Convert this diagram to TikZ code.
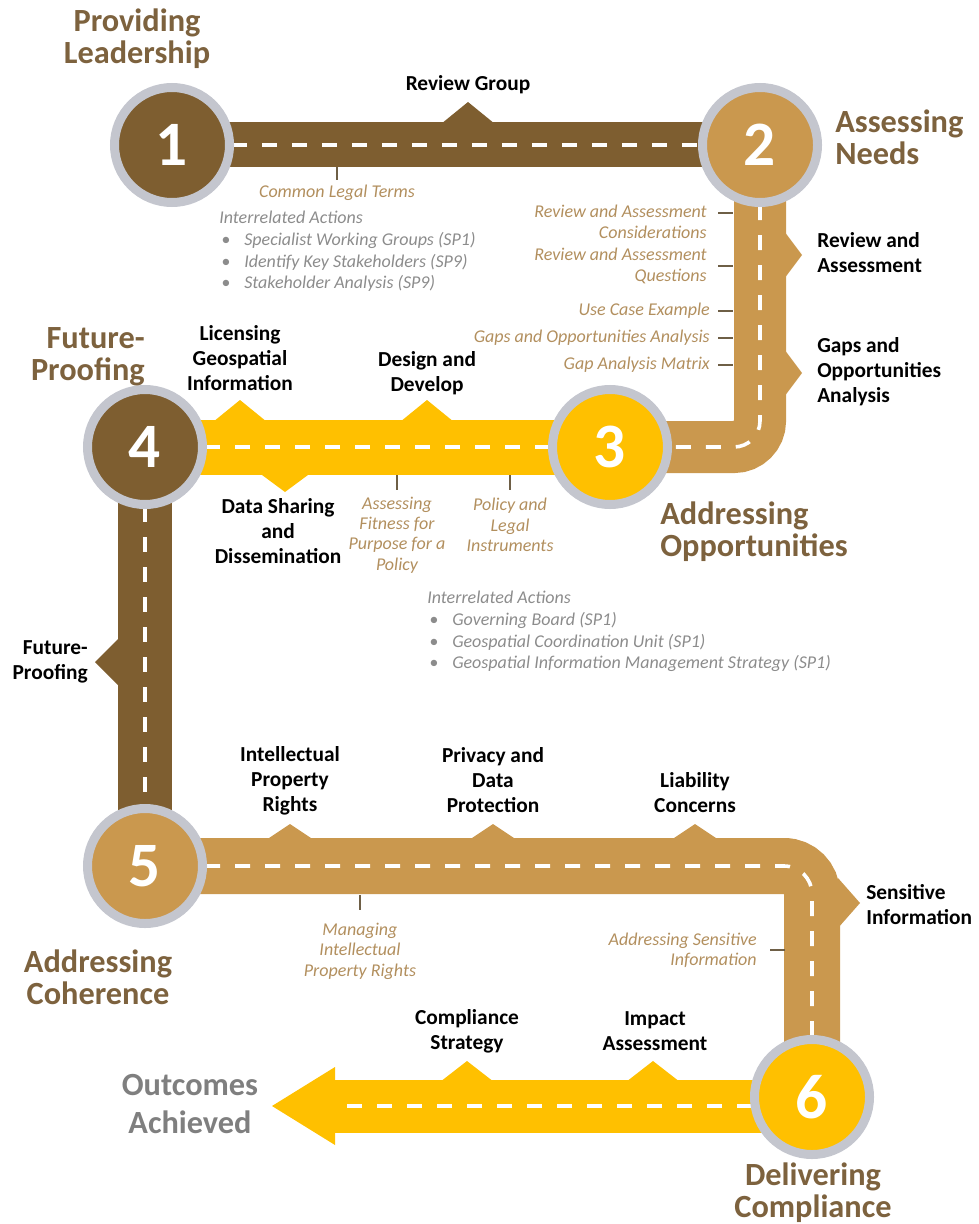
\documentclass[tikz,border=0pt]{standalone}
\usepackage{fontspec}
\setmainfont{Carlito}
\usetikzlibrary{backgrounds}
\definecolor{darkroad}{RGB}{126,94,48}
\definecolor{tanroad}{RGB}{202,152,78}
\definecolor{goldroad}{RGB}{255,192,0}
\definecolor{ringgrey}{RGB}{196,198,206}
\definecolor{headbrown}{RGB}{125,98,62}
\definecolor{notetan}{RGB}{178,143,94}
\definecolor{listgrey}{RGB}{140,140,140}
\definecolor{outgrey}{RGB}{127,127,127}
\definecolor{tickbrown}{RGB}{110,95,70}
\newcommand{\itm}{\makebox[6.25mm][l]{\hspace{0.5mm}\textbullet}}
\tikzset{
	stage/.style={circle, draw=ringgrey, line width=2.25mm, minimum size=28.75mm, inner sep=0pt, text=white, font=\fontsize{45}{45}\selectfont\bfseries},
	road/.style={line width=13.5mm},
	lane/.style={white, line width=0.9mm, dash pattern=on 3.75mm off 3.75mm},
	heading/.style={inner sep=0pt, text=headbrown, font=\fontsize{23}{23}\selectfont\bfseries},
	sign/.style={inner sep=0pt, align=center, font=\fontsize{15.2}{17.8}\selectfont\bfseries},
	note/.style={inner sep=0pt, align=center, text=notetan, font=\fontsize{12.8}{14.5}\selectfont\itshape},
	actions/.style={inner sep=0pt, align=left, text=listgrey, font=\fontsize{12.8}{15.4}\selectfont\itshape},
	marker/.style={tickbrown, line width=0.5mm}
}
\begin{document}
\begin{tikzpicture}[x=0.25mm, y=-0.25mm]
	\useasboundingbox (0,0) rectangle (978,1224);
	
	% stages
	\node[stage, fill=darkroad] (c1) at (172,145) {1};
	\node[stage, fill=tanroad] (c2) at (760,145) {2};
	\node[stage, fill=goldroad] (c3) at (610,447) {3};
	\node[stage, fill=darkroad] (c4) at (145,447) {4};
	\node[stage, fill=tanroad] (c5) at (145,866) {5};
	\node[stage, fill=goldroad] (c6) at (812,1097) {6};
	\coordinate (tip) at (272,1106);
	\coordinate (neck) at (335,1106);
	
	\begin{scope}[on background layer]
		% roads
		\draw[road, darkroad, line width=11.25mm] (c1.center) -- (c2.center);
		\draw[road, tanroad, line width=13mm, rounded corners=6.5mm] (c2.center) -- (c2.center |- c3.center) -- (c3.center);
		\draw[road, goldroad, line width=13.75mm] (c4.center) -- (c3.center);
		\draw[road, darkroad] (c4.center) -- (c5.center);
		\draw[road, tanroad, line width=14mm, rounded corners=7mm] (c5.center) -- (c6.center |- c5.center) -- (c6.center);
		\draw[road, goldroad, line width=13.25mm] (c6.center |- tip) -- (neck);
		\fill[goldroad] (tip) -- ++(63,-39) -- ++(0,78) -- cycle;
		
		% bumps
		\fill[darkroad] (441,124) -- (468,102) -- (495,124) -- cycle;
		\foreach \y in {255,373}
			\fill[tanroad] (784,\y-24) -- (802,\y) -- (784,\y+24) -- cycle;
		\foreach \x in {240,427}
			\fill[goldroad] (\x-27,422) -- (\x,400) -- (\x+27,422) -- cycle;
		\fill[goldroad] (258,472) -- (285,492) -- (312,472) -- cycle;
		\fill[darkroad] (120,637) -- (95,662) -- (120,687) -- cycle;
		\foreach \x in {290,493,695}
			\fill[tanroad] (\x-24,840) -- (\x,824) -- (\x+24,840) -- cycle;
		\fill[tanroad] (838,878) -- (860,903) -- (838,928) -- cycle;
		\foreach \x in {467,653}
			\fill[goldroad] (\x-27,1082) -- (\x,1061) -- (\x+27,1082) -- cycle;
		
		% lanes
		\draw[lane] (c1.center) -- (c2.center);
		\draw[lane, rounded corners=6.5mm] (c2.center) -- (c2.center |- c3.center) -- (c3.center);
		\draw[lane] (c4.center) -- (c3.center);
		\draw[lane] (c4.center) -- (c5.center);
		\draw[lane, rounded corners=7mm] (c5.center) -- (c6.center |- c5.center) -- (c6.center);
		\draw[lane] (c6.center |- tip) -- (neck);
	\end{scope}
	
	% stage headings
	\node[heading, align=center] (lead) at (137,39) {Providing\\Leadership};
	\node[heading, align=left, anchor=west] (needs) at (835,137) {Assessing\\Needs};
	\node[heading, align=right, anchor=east] (proof) at (145,357) {Future-\\Proofing};
	\node[heading, align=left, anchor=west] (opps) at (660,532) {Addressing\\Opportunities};
	\node[heading, align=center] (coh) at (98,977) {Addressing\\Coherence};
	\node[heading, align=center] (deliv) at (813,1193) {Delivering\\Compliance};
	\node[heading, align=center, text=outgrey, font=\fontsize{23}{27}\selectfont\bfseries] (done) at (190,1104) {Outcomes\\Achieved};
	
	% signs along the roads
	\node[sign] (review) at (468,85) {Review Group};
	\node[sign, align=left, anchor=west] (ra) at (817,253) {Review and\\Assessment};
	\node[sign, align=left, anchor=west] (gaps) at (817,372) {Gaps and\\Opportunities\\Analysis};
	\node[sign] (lic) at (240,358) {Licensing\\Geospatial\\Information};
	\node[sign] (design) at (427,373) {Design and\\Develop};
	\node[sign] (share) at (278,531) {Data Sharing\\and\\Dissemination};
	\node[sign, align=right, anchor=east] (fp) at (88,662) {Future-\\Proofing};
	\node[sign] (ipr) at (290,781) {Intellectual\\Property\\Rights};
	\node[sign] (privacy) at (493,780) {Privacy and\\Data\\Protection};
	\node[sign] (liab) at (695,793) {Liability\\Concerns};
	\node[sign, align=left, anchor=west] (sens) at (866,905) {Sensitive\\Information};
	\node[sign] (comp) at (467,1031) {Compliance\\Strategy};
	\node[sign] (impact) at (655,1031) {Impact\\Assessment};
	
	% notes
	\node[note] (legal) at (337,193) {Common Legal Terms};
	\node[note, align=right, anchor=east] (racons) at (707,222) {Review and Assessment\\Considerations};
	\node[note, align=right, anchor=east] (raques) at (707,266) {Review and Assessment\\Questions};
	\node[note, anchor=east] (usecase) at (710,311) {Use Case Example};
	\node[note, anchor=east] (goa) at (710,338) {Gaps and Opportunities Analysis};
	\node[note, anchor=east] (matrix) at (710,365) {Gap Analysis Matrix};
	\node[note] (fitness) at (397,535) {Assessing\\Fitness for\\Purpose for a\\Policy};
	\node[note] (policy) at (510,525) {Policy and\\Legal\\Instruments};
	\node[note] (mipr) at (360,951) {Managing\\Intellectual\\Property Rights};
	\node[note, align=right, anchor=east] (asi) at (757,950) {Addressing Sensitive\\Information};
	
	% ticks
	\draw[marker] (337,167) -- (337,180);
	\foreach \y in {213,266,311,338,365}
		\draw[marker] (718,\y) -- (733,\y);
	\draw[marker] (397,475) -- (397,490);
	\draw[marker] (510,475) -- (510,490);
	\draw[marker] (360,895) -- (360,910);
	\draw[marker] (770,950) -- (785,950);
	
	% interrelated actions
	\node[actions, anchor=north west] (acts1) at (219,211) {Interrelated Actions\\
		\itm Specialist Working Groups (SP1)\\
		\itm Identify Key Stakeholders (SP9)\\
		\itm Stakeholder Analysis (SP9)};
	\node[actions, anchor=north west] (acts2) at (427,591) {Interrelated Actions\\
		\itm Governing Board (SP1)\\
		\itm Geospatial Coordination Unit (SP1)\\
		\itm Geospatial Information Management Strategy (SP1)};
\end{tikzpicture}
\end{document}
